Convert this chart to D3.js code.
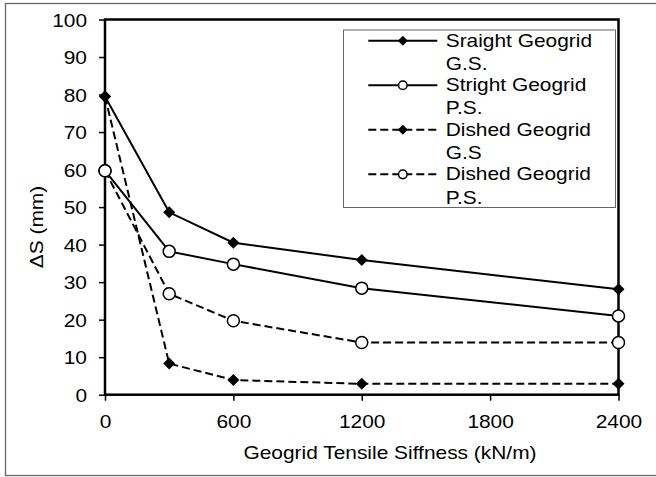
<!DOCTYPE html>
<html>
<head>
<meta charset="utf-8">
<script src="https://cdn.jsdelivr.net/npm/d3@7/dist/d3.min.js"></script>
<style>
  body { margin: 0; background: #fff; }
  text { font-family: "Liberation Sans", Arial, sans-serif; fill: #000; }
</style>
</head>
<body>
<svg id="chart" width="656" height="477"></svg>
<script>
// data
var stiffness = [0, 300, 600, 1200, 2400];
var straightGS = [79.5, 48.6, 40.5, 35.9, 28.1];
var straightPS = [59.7, 38.2, 34.8, 28.4, 21.0];
var dishedGS = [79.5, 8.3, 3.9, 2.9, 2.9];
var dishedPS = [59.7, 26.9, 19.7, 13.9, 13.9];
var xTicks = [0, 600, 1200, 1800, 2400];
var yTicks = [0, 10, 20, 30, 40, 50, 60, 70, 80, 90, 100];
var seriesNames = [["Sraight Geogrid", "G.S."], ["Stright Geogrid", "P.S."],
                   ["Dished Geogrid", "G.S"], ["Dished Geogrid", "P.S."]];

var series = [
  {vals: straightGS, dash: null, mark: "diamond"},
  {vals: straightPS, dash: null, mark: "circle"},
  {vals: dishedGS, dash: "8,4", mark: "diamond"},
  {vals: dishedPS, dash: "8,4", mark: "circle"}
];

var svg = d3.select("#chart");
// (plotTop, not "top": window.top is read only)
var plotLeft = 105, plotRight = 618.5, plotTop = 19.5, plotBottom = 394.7;

var x = d3.scaleLinear().domain([0, 2400]).range([plotLeft, plotRight]);
var y = d3.scaleLinear().domain([0, 100]).range([plotBottom, plotTop]);

// glyphs in the picture are a bit wider than Liberation Sans
function stretch(sel) {
  sel.each(function() {
    var len = this.getComputedTextLength();
    d3.select(this).attr("textLength", len * 1.1).attr("lengthAdjust", "spacingAndGlyphs");
  });
}

// outer border
svg.append("rect")
  .attr("x", 5.5).attr("y", 3.5).attr("width", 652).attr("height", 472)
  .attr("fill", "none").attr("stroke", "#666").attr("stroke-width", 1.3);

// axes
var yAxis = svg.append("g")
  .attr("transform", "translate(" + plotLeft + ",0)")
  .call(d3.axisLeft(y).tickValues(yTicks).tickSize(6).tickPadding(12));
var xAxis = svg.append("g")
  .attr("transform", "translate(0," + plotBottom + ")")
  .call(d3.axisBottom(x).tickValues(xTicks).tickSize(6).tickPadding(14).tickFormat(d3.format("d")));

[yAxis, xAxis].forEach(function(a) {
  a.select(".domain").remove();
  a.selectAll(".tick line").attr("stroke", "#000").attr("stroke-width", 1.5);
  a.selectAll(".tick text").attr("font-size", 19).attr("font-family", null).style("fill", "#000");
});
yAxis.selectAll(".tick text").attr("dy", "0.35em");
xAxis.selectAll(".tick text").attr("dy", "0.72em");
stretch(yAxis.selectAll(".tick text"));
stretch(xAxis.selectAll(".tick text"));

// plot frame
svg.append("rect")
  .attr("x", plotLeft).attr("y", plotTop)
  .attr("width", plotRight - plotLeft).attr("height", plotBottom - plotTop)
  .attr("fill", "none").attr("stroke", "#000").attr("stroke-width", 2.5);

// axis titles
svg.append("text")
  .attr("x", 390).attr("y", 459)
  .attr("text-anchor", "middle").attr("font-size", 19)
  .text("Geogrid Tensile Siffness (kN/m)")
  .call(stretch);

svg.append("text")
  .attr("transform", "translate(43,227) rotate(-90)")
  .attr("text-anchor", "middle").attr("font-size", 19)
  .text("ΔS (mm)")
  .call(stretch);

function drawMarker(g, kind, cx, cy, big) {
  if (kind === "diamond") {
    g.append("path")
      .attr("d", d3.symbol(d3.symbolSquare, big ? 72 : 50)())
      .attr("transform", "translate(" + cx + "," + cy + ") rotate(45)")
      .attr("fill", "#000");
  } else {
    g.append("circle")
      .attr("cx", cx).attr("cy", cy).attr("r", big ? 6 : 4.3)
      .attr("fill", "#fff").attr("stroke", "#000").attr("stroke-width", 1.5);
  }
}

var line = d3.line()
  .x(function(d, i) { return x(stiffness[i]); })
  .y(function(d) { return y(d); });

series.forEach(function(s) {
  var g = svg.append("g");
  g.append("path")
    .attr("d", line(s.vals))
    .attr("fill", "none").attr("stroke", "#000").attr("stroke-width", 2)
    .attr("stroke-dasharray", s.dash);
  s.vals.forEach(function(v, i) {
    drawMarker(g, s.mark, x(stiffness[i]), y(v), true);
  });
});

// legend
var lg = svg.append("g");
lg.append("rect")
  .attr("x", 343.5).attr("y", 30).attr("width", 272).attr("height", 177.5)
  .attr("fill", "#fff").attr("stroke", "#666").attr("stroke-width", 1);

series.forEach(function(s, i) {
  var ly = 40.7 + i * 44.55;
  lg.append("line")
    .attr("x1", 368.3).attr("x2", 437.3).attr("y1", ly).attr("y2", ly)
    .attr("stroke", "#000").attr("stroke-width", 2)
    .attr("stroke-dasharray", s.dash);
  drawMarker(lg, s.mark, 402.8, ly, false);
  seriesNames[i].forEach(function(t, j) {
    lg.append("text")
      .attr("x", 445.7).attr("y", ly + 5.8 + j * 23.4)
      .attr("font-size", 19)
      .text(t)
      .call(stretch);
  });
});
</script>
</body>
</html>
